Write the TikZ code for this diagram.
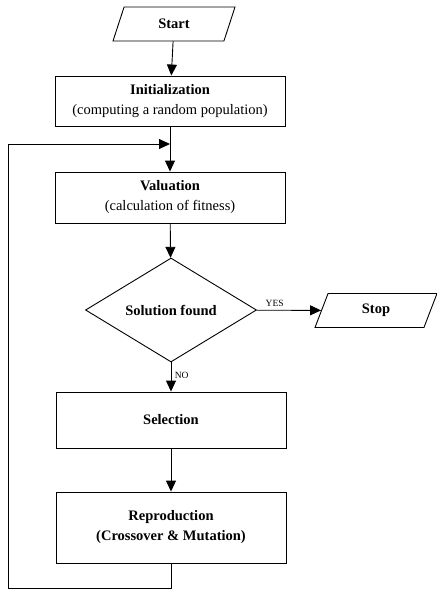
\documentclass[tikz,border=0pt]{standalone}
\usepackage{fontspec}
\setmainfont{Liberation Serif}
\usetikzlibrary{arrows.meta}
\usetikzlibrary{shapes.geometric}
\tikzset{
  line/.style={line width=0.9pt,black},
  block/.style={line,draw,rectangle,minimum width=230,align=center,inner sep=2,
    font=\fontsize{14.5}{20}\selectfont},
  io/.style={line,draw,trapezium,trapezium left angle=56,trapezium right angle=124,
    trapezium stretches body,minimum width=122,minimum height=34,font=\fontsize{14.5}{15}\selectfont\bfseries},
  decide/.style={line,draw,diamond,aspect=1.64,minimum width=171,minimum height=104,inner sep=0,
    font=\fontsize{14.5}{15}\selectfont\bfseries},
  connect arrow/.style={line,-{Triangle[length=11,width=10]}},
  tag/.style={font=\fontsize{9.5}{11}\selectfont}
}
\begin{document}
\begin{tikzpicture}[x=1pt,y=-1pt]
  \useasboundingbox (0,0) rectangle (437,598);
  % flow boxes
  \node[io] (start) at (174,24) {Start};
  \node[block,minimum height=50] (init) at (170,101)
    {\textbf{Initialization}\\(computing a random population)};
  \node[block,minimum height=51] (val) at (170,197.5)
    {\textbf{Valuation}\\(calculation of fitness)};
  \node[decide] (found) at (171,310) {Solution found};
  \node[io] (stop) at (376,310.5) {Stop};
  \node[block,minimum height=56] (sel) at (171,420) {\textbf{Selection}};
  \node[block,minimum height=71] (rep) at (171,527.5)
    {\textbf{Reproduction}\\\textbf{(Crossover \& Mutation)}};
  % loop corners
  \coordinate (join) at (init.south |- 0,144);
  \coordinate (back) at (rep.south |- 0,588);
  \coordinate (corner) at (8,588);
  \coordinate (corner top) at (8,144);
  % connectors
  \draw[connect arrow] (start) -- (init);
  \draw[connect arrow] (init) -- (val);
  \draw[connect arrow] (val) -- (found);
  \draw[connect arrow] (found) -- node[tag,above,pos=0.28] {YES} (stop);
  \draw[connect arrow] (found) -- node[tag,right,pos=0.45] {NO} (sel);
  \draw[connect arrow] (sel) -- (rep);
  \draw[connect arrow] (rep.south) -- (back) -- (corner) -- (corner top) -- (join);
\end{tikzpicture}
\end{document}
